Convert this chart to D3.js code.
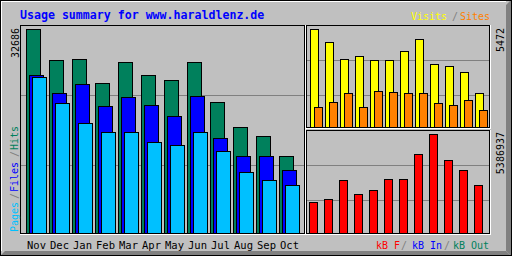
<!DOCTYPE html>
<html>
<head>
<meta charset="utf-8">
<script src="https://cdn.jsdelivr.net/npm/d3@7/dist/d3.min.js"></script>
<style>
  body { margin: 0; background: #fff; }
  svg { display: block; }
  text { font-family: "DejaVu Sans Mono", monospace; font-size: 10px; }
</style>
</head>
<body>
<div id="chart"></div>
<script>
/* DATA */
const months = ["Nov", "Dec", "Jan", "Feb", "Mar", "Apr", "May", "Jun", "Jul", "Aug", "Sep", "Oct"];
const hits   = [32686, 27690, 27850, 23990, 27370, 25280, 24470, 27370, 20930, 16910, 15620, 12400];
const files  = [25280, 22380, 23830, 20290, 21740, 20450, 18680, 21900, 15300, 12400, 12400, 10140];
const pages  = [24960, 20770, 17550, 16260, 16260, 14650, 14170, 16260, 13200, 9820, 8530, 7730];
const visits = [5472, 4746, 3797, 3964, 3741, 3741, 4244, 4914, 3518, 3406, 3071, 1898];
const sites  = [1117, 1396, 1898, 1117, 2010, 1954, 1898, 1898, 1340, 1228, 1508, 949];
const kbytes = [1704030, 1868940, 2858380, 2143780, 2363650, 2913350, 2913350, 4287560, 5386937, 3957750, 3408060, 2638510];

const width = 512, height = 256;
const grey = "#c0c0c0", dkgrey = "#808080";
const hitColor = "#00805c", fileColor = "#0000ff", pageColor = "#00c0ff",
  visitColor = "#ffff00", siteColor = "#ff8000", kbColor = "#ff0000";

const svg = d3.select("#chart").append("svg")
  .attr("width", width)
  .attr("height", height);

// gd style rectangle: inclusive pixel corners
function box(g, x1, y1, x2, y2, fill, stroke) {
  return g.append("rect")
    .attr("x", x1 + 0.5).attr("y", y1 + 0.5)
    .attr("width", x2 - x1).attr("height", y2 - y1)
    .attr("fill", fill || "none")
    .attr("stroke", stroke || "none")
    .attr("shape-rendering", "crispEdges");
}
function hline(x1, x2, y, color) {
  svg.append("line").attr("x1", x1).attr("x2", x2 + 1)
    .attr("y1", y + 0.5).attr("y2", y + 0.5)
    .attr("stroke", color).attr("shape-rendering", "crispEdges");
}
function vline(x, y1, y2, color) {
  svg.append("line").attr("x1", x + 0.5).attr("x2", x + 0.5)
    .attr("y1", y1).attr("y2", y2 + 1)
    .attr("stroke", color).attr("shape-rendering", "crispEdges");
}

/* OUTER FRAME */
svg.append("rect").attr("width", width).attr("height", height).attr("fill", grey);
svg.append("polygon").attr("points", "506,5 511,0 511,256 506,251").attr("fill", dkgrey);
svg.append("polygon").attr("points", "0,256 5,251 506,251 511,256").attr("fill", dkgrey);
box(svg, 0, 0, 511, 255, "none", "#000");
hline(1, 505, 1, "#fff");
vline(1, 1, 250, "#fff");

/* PANELS */
const panels = [
  { x1: 20, y1: 25, x2: 304, y2: 233, grid: [95, 165] },
  { x1: 306, y1: 25, x2: 489, y2: 127, grid: [60, 95] },
  { x1: 306, y1: 130, x2: 489, y2: 233, grid: [165, 200] }
];
panels.forEach(p => {
  p.grid.forEach(gy => hline(p.x1 + 1, p.x2 - 1, gy, dkgrey));
});

/* SCALES */
const xLeft = d3.scaleBand().domain(months).range([26, 26 + 23 * 12]);
const xRight = d3.scaleBand().domain(months).range([309, 309 + 15 * 12]);
const yLeft = d3.scaleLinear().domain([0, d3.max(hits)]).range([233, 29]);
const yTop = d3.scaleLinear().domain([0, d3.max(visits)]).range([127, 29]);
const yBottom = d3.scaleLinear().domain([0, d3.max(kbytes)]).range([233, 134]);

function bars(values, xScale, offset, barWidth, yScale, color) {
  const g = svg.append("g");
  values.forEach((v, i) => {
    const x1 = xScale(months[i]) + offset;
    box(g, x1, Math.round(yScale(v)), x1 + barWidth, yScale(0), color, "#000");
  });
}

bars(hits, xLeft, 0, 14, yLeft, hitColor);
bars(files, xLeft, 3, 14, yLeft, fileColor);
bars(pages, xLeft, 6, 14, yLeft, pageColor);
bars(visits, xRight, 1, 8, yTop, visitColor);
bars(sites, xRight, 5, 8, yTop, siteColor);
bars(kbytes, xRight, 0, 8, yBottom, kbColor);

panels.forEach(p => {
  box(svg, p.x1, p.y1, p.x2, p.y2, "none", "#000");
  hline(p.x1, p.x2 + 1, p.y2 + 1, "#fff");
  vline(p.x2 + 1, p.y1, p.y2 + 1, "#fff");
});

/* MONTH LABELS */
svg.append("g").selectAll("text")
  .data(months)
  .join("text")
  .attr("x", d => xLeft(d) + 10.5)
  .attr("y", 249)
  .attr("text-anchor", "middle")
  .attr("fill", "#000")
  .style("font-size", "10.5px")
  .text(d => d);

/* TITLE + LEGENDS */
svg.append("text")
  .attr("x", 20).attr("y", 19)
  .attr("fill", "#0000ff")
  .style("font-size", "11.6px")
  .style("font-weight", "bold")
  .text("Usage summary for www.haraldlenz.de");

function upText(x, y, str, color, anchor) {
  svg.append("text")
    .attr("transform", `translate(${x},${y}) rotate(-90)`)
    .attr("text-anchor", anchor || "start")
    .attr("fill", color)
    .text(str);
}
upText(19, 28, d3.max(hits), "#000", "end");
upText(504, 28, d3.max(visits), "#000", "end");
upText(504, 132, d3.max(kbytes), "#000", "end");

upText(18, 232, "Pages", pageColor);
upText(18, 199, "/", dkgrey);
upText(18, 192, "Files", fileColor);
upText(18, 157, "/", dkgrey);
upText(18, 150, "Hits", hitColor);

function flatText(x, y, str, color) {
  svg.append("text").attr("x", x).attr("y", y).attr("fill", color).text(str);
}
flatText(411, 20, "Visits", visitColor);
flatText(452, 20, "/", dkgrey);
flatText(460, 20, "Sites", siteColor);

flatText(376, 249, "kB F", kbColor);
flatText(401, 249, "/", dkgrey);
flatText(412, 249, "kB In", fileColor);
flatText(444, 249, "/", dkgrey);
flatText(453, 249, "kB Out", hitColor);
</script>
</body>
</html>
